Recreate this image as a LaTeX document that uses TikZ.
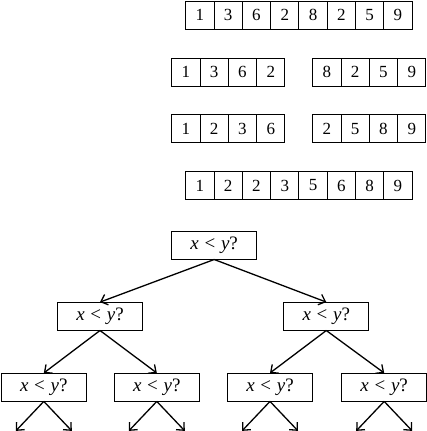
\documentclass[tikz,border=0pt]{standalone}
\usepackage{fontspec}
\setmainfont{Liberation Serif}
\usetikzlibrary{arrows.meta}
\begin{document}
\begin{tikzpicture}[x=1pt,y=-1pt,
  cell/.style={draw,line width=0.9pt,minimum width=28.3pt,minimum height=28pt,inner sep=0pt,font=\fontsize{17}{19}\selectfont,anchor=center},
  qbox/.style={draw,line width=0.9pt,minimum width=85pt,minimum height=27.5pt,inner sep=0pt,font=\fontsize{19}{21}\selectfont},
  arr/.style={line width=1.3pt,-{Straight Barb[length=6pt,width=11pt,line width=1.3pt]}}]
\useasboundingbox (0,0) rectangle (427,431);
% arrays
\newcommand{\cellrow}[4]{% name, x0, yc, list
  \foreach \v [count=\i] in {#4} {
    \node[cell] (#1\i) at ({#2+14.15+(\i-1)*28.3},#3) {\v};
  }}
\cellrow{a}{185.7}{15.2}{1,3,6,2,8,2,5,9}
\cellrow{b}{171.7}{72.2}{1,3,6,2}
\cellrow{c}{312.7}{72.2}{8,2,5,9}
\cellrow{d}{171.7}{128.8}{1,2,3,6}
\cellrow{e}{312.7}{128.8}{2,5,8,9}
\cellrow{f}{185.7}{185.5}{1,2,2,3,5,6,8,9}
% tree
\newcommand{\q}{\textit{x}\hspace{0.3em}<\hspace{0.3em}\textit{y}?}
\node[qbox] (r) at (214.2,245.3) {\q};
\node[qbox] (l) at (100,316.3) {\q};
\node[qbox] (rr) at (326.3,316.3) {\q};
\node[qbox] (ll) at (43.8,387.2) {\q};
\node[qbox] (lr) at (156.8,387.2) {\q};
\node[qbox] (rl) at (270,387.2) {\q};
\node[qbox] (rrr) at (384.2,387.2) {\q};
\draw[arr] (r.south) -- (l.north);
\draw[arr] (r.south) -- (rr.north);
\draw[arr] (l.south) -- (ll.north);
\draw[arr] (l.south) -- (lr.north);
\draw[arr] (rr.south) -- (rl.north);
\draw[arr] (rr.south) -- (rrr.north);
\foreach \n in {ll,lr,rl,rrr} {
  \coordinate (\n a) at ([xshift=-28pt,yshift=-29.5pt]\n.south);
  \coordinate (\n b) at ([xshift=28pt,yshift=-29.5pt]\n.south);
  \draw[arr] (\n.south) -- (\n a);
  \draw[arr] (\n.south) -- (\n b);
}
\end{tikzpicture}
\end{document}
